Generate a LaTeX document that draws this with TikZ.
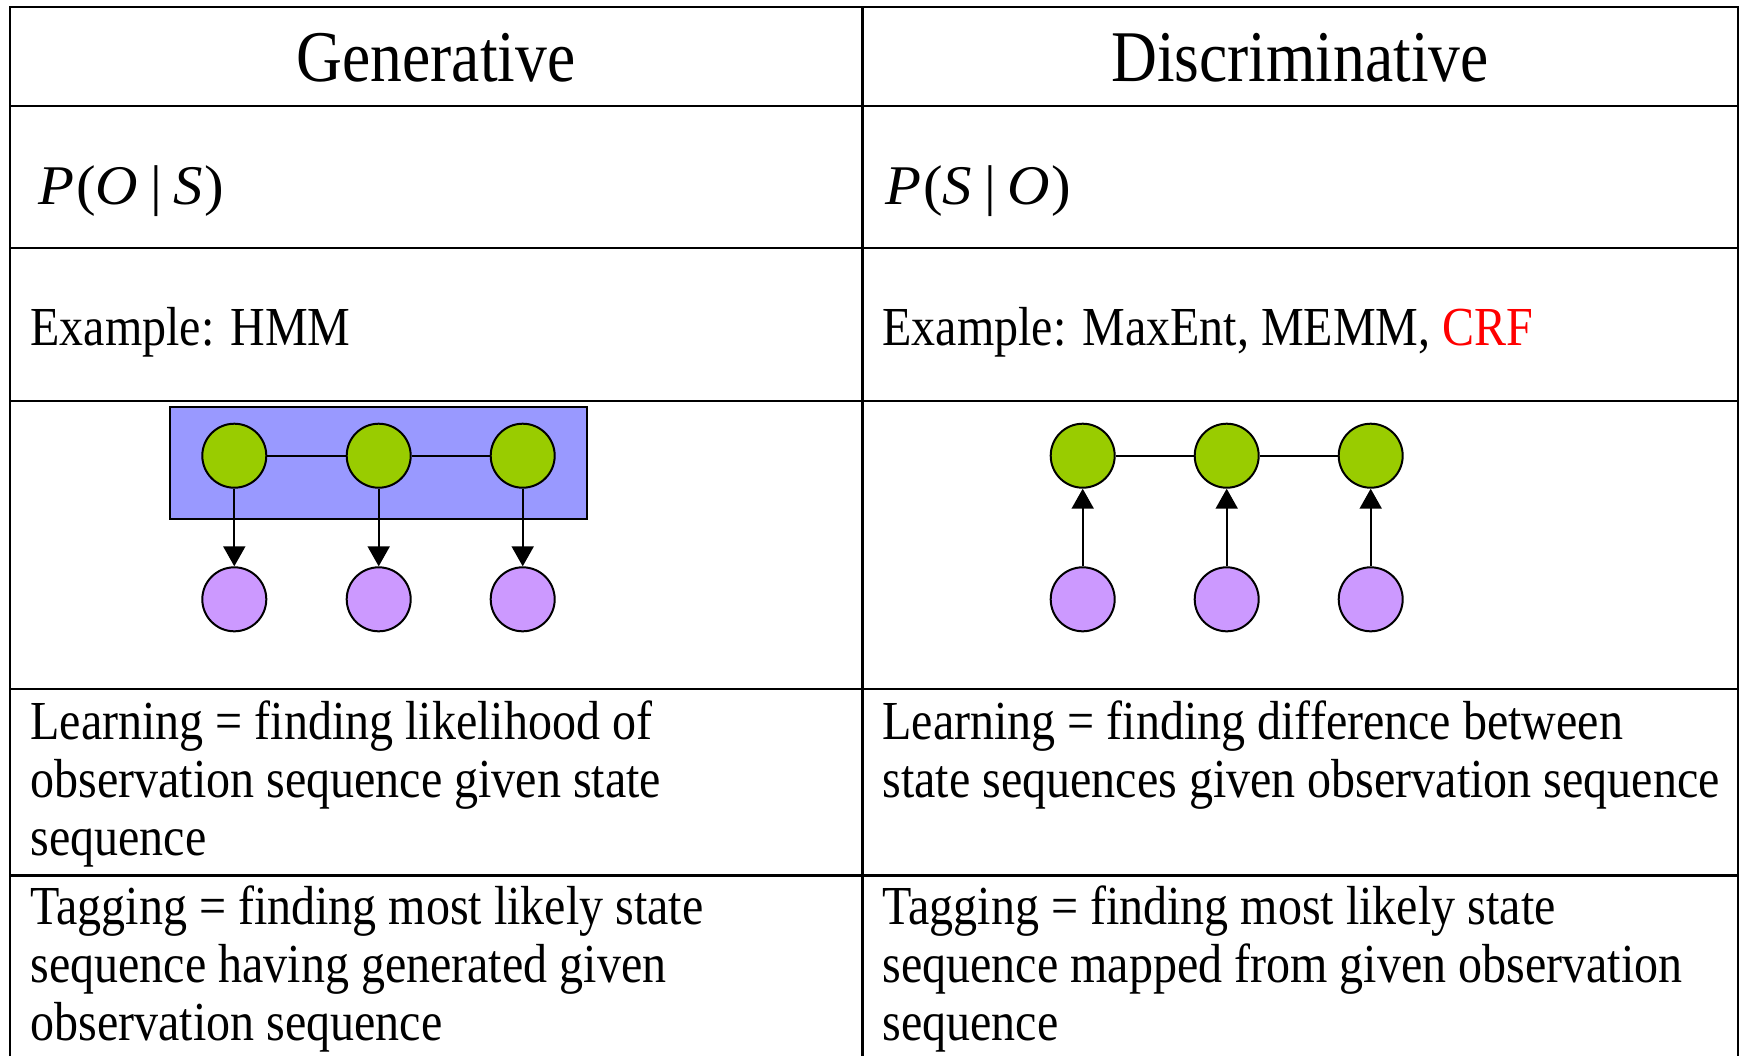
\documentclass[tikz,border=0pt]{standalone}
\usepackage{fontspec}
\setmainfont{Liberation Serif}[FakeStretch=0.873]
\newfontfamily\formulafont{Liberation Serif}[FakeStretch=1.05]
\usetikzlibrary{arrows.meta}

\definecolor{stategreen}{RGB}{153,204,0}
\definecolor{obspurple}{RGB}{204,153,255}
\definecolor{boxblue}{RGB}{153,153,255}
\definecolor{crfred}{RGB}{255,0,0}

% conditional probability P(a | b)
\newcommand{\condprob}[2]{{\formulafont\textit{P}\kern1pt(\textit{#1}\kern6pt|\kern5.5pt\textit{#2}\kern1pt)}}

\begin{document}
\begin{tikzpicture}[x=0.5pt,y=-0.5pt,
  rule/.style={line width=1.25pt, black},
  headtext/.style={font=\fontsize{36.4}{40}\selectfont, anchor=base, inner sep=0pt},
  bodytext/.style={font=\fontsize{27.5}{29.2}\selectfont, anchor=base west, inner sep=0pt},
  probtext/.style={font=\fontsize{28}{30}\selectfont, anchor=base west, inner sep=0pt},
  state/.style={circle, draw=black, line width=1pt, fill=stategreen, minimum size=32pt, inner sep=0pt},
  obs/.style={circle, draw=black, line width=1pt, fill=obspurple, minimum size=32pt, inner sep=0pt},
  link/.style={line width=1pt, black},
  emit/.style={line width=1pt, black, -{Triangle[length=10pt,width=11pt]}},
  hmmbox/.style={rectangle, draw=black, line width=1pt, fill=boxblue, inner sep=0pt,
                 minimum width=208.3pt, minimum height=56pt},
]
\fill[white] (0,0) rectangle (1740,1056);
\useasboundingbox (0,0) rectangle (1740,1056);

% table grid
\draw[rule] (10,1056) -- (10,7) -- (1738,7) -- (1738,1056);
\draw[rule] (862.5,7) -- (862.5,1056);
\foreach \ry in {106,248,401,689,875.5}
  \draw[rule] (10,\ry) -- (1738,\ry);

% column headings
\node[headtext] (genhead) at (436,81) {Generative};
\node[headtext] (dishead) at (1300,81) {Discriminative};

% probabilities
\node[probtext] (genprob) at (38,204) {\condprob{O}{S}};
\node[probtext] (disprob) at (885,204) {\condprob{S}{O}};

% examples
\node[bodytext] (genex) at (30,345) {Example: HMM};
\node[bodytext] (disex) at (882,345) {Example: MaxEnt, MEMM, \textcolor{crfred}{CRF}};

% generative model: states inside a box emit observations
\node[hmmbox] (hmmframe) at (378.5,463.4) {};
\node[state] (gs1) at (234.3,455.7) {};
\node[state] (gs2) at (378.7,455.7) {};
\node[state] (gs3) at (522.7,455.7) {};
\node[obs] (go1) at (234.3,599.3) {};
\node[obs] (go2) at (378.7,599.3) {};
\node[obs] (go3) at (522.7,599.3) {};
\draw[link] (gs1) -- (gs2);
\draw[link] (gs2) -- (gs3);
\draw[emit] (gs1) -- (go1);
\draw[emit] (gs2) -- (go2);
\draw[emit] (gs3) -- (go3);

% discriminative model: observations point to states
\node[state] (ds1) at (1082.7,455.7) {};
\node[state] (ds2) at (1226.7,455.7) {};
\node[state] (ds3) at (1370.7,455.7) {};
\node[obs] (do1) at (1082.7,599.3) {};
\node[obs] (do2) at (1226.7,599.3) {};
\node[obs] (do3) at (1370.7,599.3) {};
\draw[link] (ds1) -- (ds2);
\draw[link] (ds2) -- (ds3);
\draw[emit] (do1) -- (ds1);
\draw[emit] (do2) -- (ds2);
\draw[emit] (do3) -- (ds3);

% learning
\node[bodytext] (genlearn) at (30,739) {\parbox[t]{420pt}{Learning = finding likelihood of\\observation sequence given state\\sequence}};
\node[bodytext] (dislearn) at (882,739) {\parbox[t]{430pt}{Learning = finding difference between\\state sequences given observation sequence}};

% tagging
\node[bodytext] (gentag) at (30,924) {\parbox[t]{420pt}{Tagging = finding most likely state\\sequence having generated given\\observation sequence}};
\node[bodytext] (distag) at (882,924) {\parbox[t]{430pt}{Tagging = finding most likely state\\sequence mapped from given observation\\sequence}};
\end{tikzpicture}
\end{document}
